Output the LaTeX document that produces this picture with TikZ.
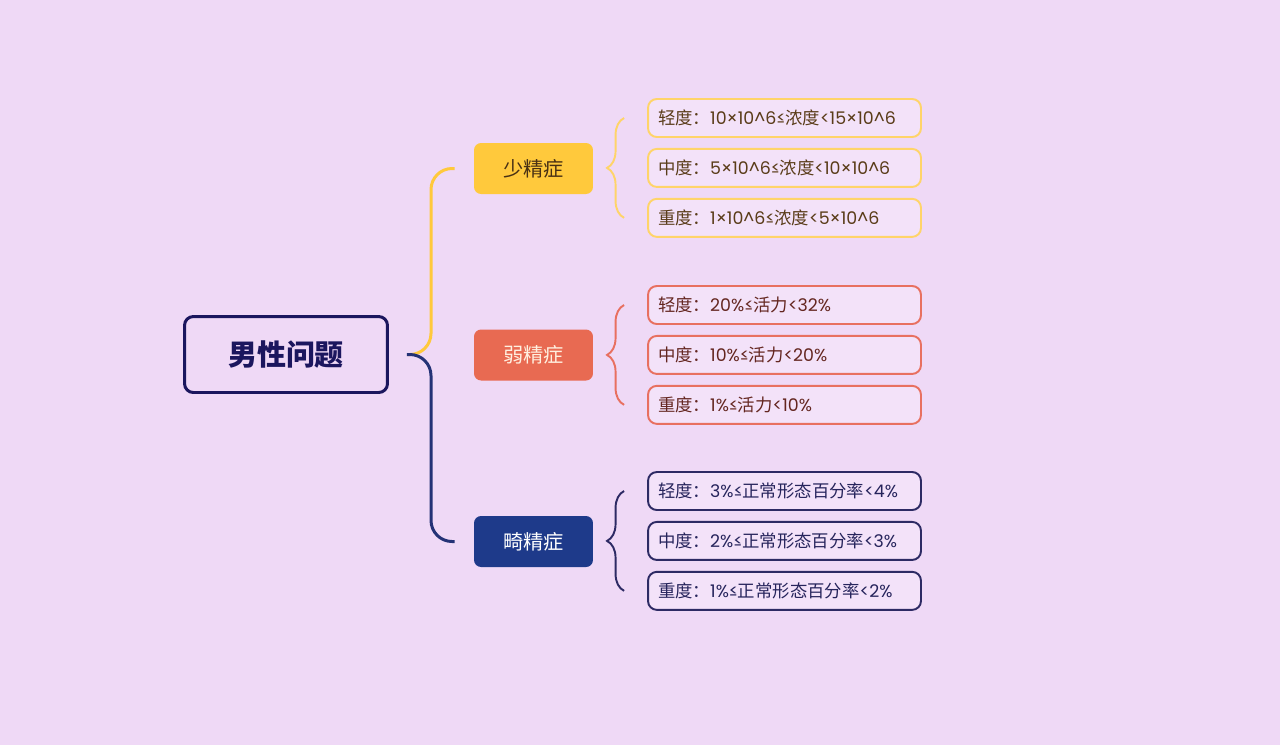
\documentclass[tikz,border=0pt]{standalone}
\usepackage{fontspec}
\setmainfont{Poppins}
\newfontfamily\cjk{Noto Sans CJK SC}
\usetikzlibrary{positioning,decorations.pathreplacing}
\definecolor{bgpink}{RGB}{239,217,246}
\definecolor{leafpink}{RGB}{243,226,249}
\definecolor{rootblue}{RGB}{27,22,94}
\definecolor{gold}{RGB}{255,201,60}
\definecolor{goldline}{RGB}{255,212,105}
\definecolor{goldtext}{RGB}{90,60,25}
\definecolor{coral}{RGB}{232,106,82}
\definecolor{coralline}{RGB}{232,112,96}
\definecolor{coraltext}{RGB}{100,38,32}
\definecolor{navy}{RGB}{30,58,138}
\definecolor{navyline}{RGB}{36,50,118}
\definecolor{navyleaf}{RGB}{45,42,100}
\definecolor{navytext}{RGB}{38,36,92}
\begin{document}
\begin{tikzpicture}[
    x=0.02cm, y=-0.02cm,
    node distance = 0.2cm,
    rootnode/.style={draw=rootblue, line width=1.7pt, rounded corners=5pt, fill=bgpink, text=rootblue,
      minimum width=4.06cm, minimum height=1.52cm, font=\cjk\bfseries\fontsize{16.5}{17}\selectfont},
    topicnode/.style={rounded corners=4pt, minimum width=2.38cm, minimum height=1.02cm,
      font=\cjk\fontsize{11.5}{12}\selectfont},
    leafnode/.style={draw, line width=1.1pt, rounded corners=5pt, fill=leafpink, text width=5.06cm,
      align=left, inner xsep=0.2cm, minimum height=0.76cm, font=\fontsize{9.9}{10}\selectfont},
    link/.style={line width=1.7pt, rounded corners=12pt},
    bracket/.style={line width=1.1pt, decorate, decoration={brace, amplitude=0.34cm}},
  ]
  \useasboundingbox[fill=bgpink] (0,0) rectangle (1280,745);

  % root and topics
  \node[rootnode] (root) at (286,354.5) {男性问题};
  \node[topicnode, fill=gold, text=goldtext!80!black] (sjz) at (533.5,168.5) {少精症};
  \node[topicnode, fill=coral, text=white!88!orange] (rjz) at (533.5,355) {弱精症};
  \node[topicnode, fill=navy, text=white] (jjz) at (533.5,541.5) {畸精症};

  \draw[link, gold] ([xshift=0.38cm]root.east) -| (431,300) |- ([xshift=-0.38cm]sjz.west);
  \draw[link, navyline] ([xshift=0.36cm]root.east) -| (431,420) |- ([xshift=-0.38cm]jjz.west);

  % leaves
  \node[leafnode, draw=goldline, text=goldtext] (s1) at (784.5,118) {{\cjk 轻度：}10×10\textasciicircum6≤{\cjk 浓度}<15×10\textasciicircum6};
  \node[leafnode, draw=goldline, text=goldtext] (s2) [below=of s1] {{\cjk 中度：}5×10\textasciicircum6≤{\cjk 浓度}<10×10\textasciicircum6};
  \node[leafnode, draw=goldline, text=goldtext] (s3) [below=of s2] {{\cjk 重度：}1×10\textasciicircum6≤{\cjk 浓度}<5×10\textasciicircum6};

  \node[leafnode, draw=coralline, text=coraltext] (r1) at (784.5,305) {{\cjk 轻度：}20\%≤{\cjk 活力}<32\%};
  \node[leafnode, draw=coralline, text=coraltext] (r2) [below=of r1] {{\cjk 中度：}10\%≤{\cjk 活力}<20\%};
  \node[leafnode, draw=coralline, text=coraltext] (r3) [below=of r2] {{\cjk 重度：}1\%≤{\cjk 活力}<10\%};

  \node[leafnode, draw=navyleaf, text=navytext] (j1) at (784.5,491) {{\cjk 轻度：}3\%≤{\cjk 正常形态百分率}<4\%};
  \node[leafnode, draw=navyleaf, text=navytext] (j2) [below=of j1] {{\cjk 中度：}2\%≤{\cjk 正常形态百分率}<3\%};
  \node[leafnode, draw=navyleaf, text=navytext] (j3) [below=of j2] {{\cjk 重度：}1\%≤{\cjk 正常形态百分率}<2\%};

  \draw[bracket, goldline] ([xshift=-0.46cm]s3.west) -- ([xshift=-0.46cm]s1.west);
  \draw[bracket, coralline] ([xshift=-0.46cm]r3.west) -- ([xshift=-0.46cm]r1.west);
  \draw[bracket, navyleaf] ([xshift=-0.46cm]j3.west) -- ([xshift=-0.46cm]j1.west);
\end{tikzpicture}
\end{document}
